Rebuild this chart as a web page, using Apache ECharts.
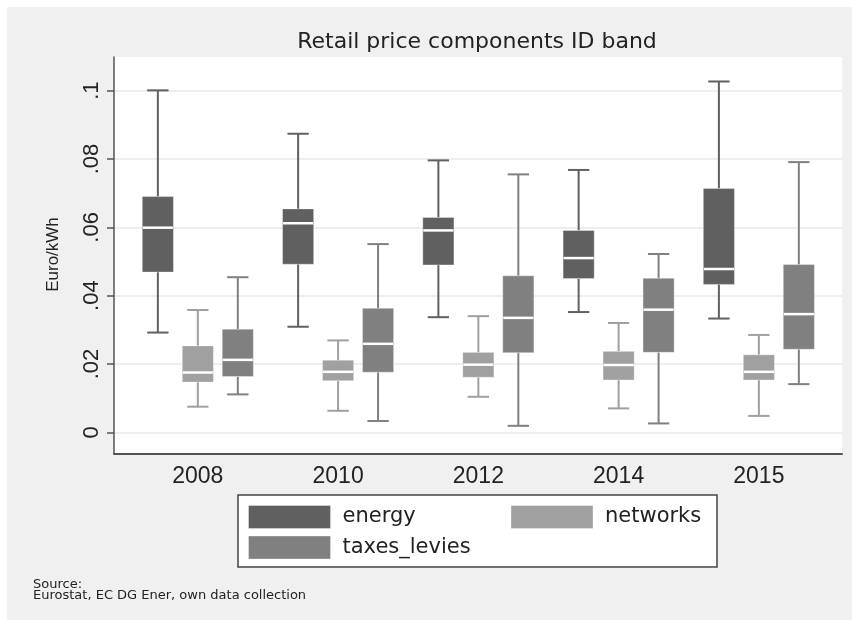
<!DOCTYPE html>
<html>
<head>
<meta charset="utf-8">
<script src="https://cdn.jsdelivr.net/npm/echarts@6/dist/echarts.min.js"></script>
<style>html,body{margin:0;padding:0;background:#fff}#c{width:852px;height:620px}</style>
</head>
<body>
<div id="c"></div>
<script>
// ---- data (Euro/kWh): [lower whisker, Q1, median, Q3, upper whisker]
var years = ['2008', '2010', '2012', '2014', '2015'];
var yTicks = ['0', '.02', '.04', '.06', '.08', '.1'];
var energy = [
  [0.0292, 0.0469, 0.0599, 0.0690, 0.1001],
  [0.0309, 0.0492, 0.0612, 0.0654, 0.0874],
  [0.0337, 0.0490, 0.0591, 0.0629, 0.0796],
  [0.0352, 0.0450, 0.0510, 0.0591, 0.0768],
  [0.0333, 0.0433, 0.0478, 0.0714, 0.1027]
];
var networks = [
  [0.0075, 0.0147, 0.0175, 0.0253, 0.0358],
  [0.0063, 0.0151, 0.0177, 0.0211, 0.0269],
  [0.0104, 0.0161, 0.0198, 0.0234, 0.0340],
  [0.0070, 0.0153, 0.0197, 0.0237, 0.0320],
  [0.0048, 0.0153, 0.0177, 0.0227, 0.0285]
];
var taxes_levies = [
  [0.0111, 0.0163, 0.0212, 0.0302, 0.0454],
  [0.0033, 0.0176, 0.0259, 0.0363, 0.0551],
  [0.0019, 0.0233, 0.0335, 0.0458, 0.0755],
  [0.0026, 0.0234, 0.0359, 0.0451, 0.0522],
  [0.0141, 0.0243, 0.0346, 0.0491, 0.0791]
];

var chart = echarts.init(document.getElementById('c'), null, {renderer: 'canvas'});

function boxSeries(name, rows, color, offset) {
  return {
    name: name,
    type: 'custom',
    xAxisIndex: 2,
    yAxisIndex: 2,
    silent: true,
    itemStyle: {color: color},
    encode: {x: 0, y: [1, 2, 3, 4, 5]},
    data: rows.map(function (r, i) { return [i].concat(r); }),
    renderItem: function (params, api) {
      var i = api.value(0);
      var band = api.size([1, 0])[0];
      var cx = api.coord([i, 0])[0] + offset * band;
      var Y = function (k) { return api.coord([i, api.value(k)])[1]; };
      var bw = band * 0.222, cw = band * 0.152;
      var yl = Y(1), q1 = Y(2), md = Y(3), q3 = Y(4), yh = Y(5);
      var ls = {stroke: color, lineWidth: 2};
      return {
        type: 'group',
        children: [
          {type: 'line', shape: {x1: cx, y1: q3, x2: cx, y2: yh}, style: ls},
          {type: 'line', shape: {x1: cx, y1: q1, x2: cx, y2: yl}, style: ls},
          {type: 'line', shape: {x1: cx - cw / 2, y1: yh, x2: cx + cw / 2, y2: yh}, style: ls},
          {type: 'line', shape: {x1: cx - cw / 2, y1: yl, x2: cx + cw / 2, y2: yl}, style: ls},
          {type: 'rect', shape: {x: cx - bw / 2, y: q3, width: bw, height: q1 - q3},
            style: {fill: color, stroke: 'rgba(255,255,255,0.35)', lineWidth: 1}},
          {type: 'line', shape: {x1: cx - bw / 2 + 0.5, y1: md, x2: cx + bw / 2 - 0.5, y2: md},
            style: {stroke: '#ffffff', lineWidth: 2.5}}
        ]
      };
    }
  };
}

var legendCommon = {
  orient: 'horizontal', padding: 0, itemWidth: 82, itemHeight: 23, icon: 'rect',
  selectedMode: false,
  itemStyle: {borderColor: 'rgba(255,255,255,0.35)', borderWidth: 1},
  textStyle: {fontFamily: 'DejaVu Sans', fontSize: 21, color: '#222', padding: [0, 0, 0, 7], lineHeight: 23}
};

var option = {
  animation: false,
  backgroundColor: '#ffffff',
  title: {
    text: 'Retail price components ID band',
    left: 477, top: 31, padding: 0, textAlign: 'center',
    textStyle: {fontFamily: 'DejaVu Sans', fontSize: 22, fontWeight: 'normal', color: '#222'}
  },
  graphic: [
    {type: 'rect', z: -10, shape: {x: 7, y: 7, width: 845, height: 613}, style: {fill: '#f0f0f0'}},
    {type: 'rect', z: 1, shape: {x: 238, y: 495, width: 479, height: 72},
      style: {fill: '#ffffff', stroke: '#444', lineWidth: 1.5}},
    {type: 'text', x: 33, y: 585, style: {text: 'Source:', fontFamily: 'DejaVu Sans', fontSize: 13, fill: '#222', verticalAlign: 'middle'}},
    {type: 'text', x: 33, y: 596, style: {text: 'Eurostat, EC DG Ener, own data collection', fontFamily: 'DejaVu Sans', fontSize: 13, fill: '#222', verticalAlign: 'middle'}}
  ],
  legend: [
    Object.assign({data: ['energy'], left: 248, top: 505}, legendCommon),
    Object.assign({data: ['networks'], left: 510.5, top: 505}, legendCommon),
    Object.assign({data: ['taxes_levies'], left: 248, top: 535.5}, legendCommon)
  ],
  grid: [
    {left: 114, right: 10, top: 57, bottom: 166, show: true, backgroundColor: '#ffffff', borderWidth: 0, containLabel: false},
    {left: 114, right: 10, top: 90.7, bottom: 187.7, containLabel: false},
    {left: 127.7, right: 23, top: 90.7, bottom: 187.7, containLabel: false}
  ],
  xAxis: [
    {gridIndex: 0, type: 'value', min: 0, max: 1,
      axisLine: {show: true, onZero: false, lineStyle: {color: '#555', width: 2}},
      axisTick: {show: false}, axisLabel: {show: false}, splitLine: {show: false}},
    {gridIndex: 1, type: 'value', min: 0, max: 1, show: false},
    {gridIndex: 2, type: 'category', data: years, boundaryGap: true,
      axisLine: {show: false}, axisTick: {show: false}, splitLine: {show: false},
      axisLabel: {margin: 33, fontFamily: 'Liberation Sans', fontSize: 23, color: '#222'}}
  ],
  yAxis: [
    {gridIndex: 0, type: 'value', min: 0, max: 1,
      axisLine: {show: true, onZero: false, lineStyle: {color: '#555', width: 1.5}},
      axisTick: {show: false}, axisLabel: {show: false}, splitLine: {show: false}},
    {gridIndex: 1, type: 'value', min: 0, max: 0.1, interval: 0.02,
      name: 'Euro/kWh', nameLocation: 'middle', nameGap: 52,
      nameTextStyle: {fontFamily: 'Liberation Sans', fontSize: 17, color: '#222', padding: [0, 0, 0, 14]},
      axisLine: {show: false},
      axisTick: {show: true, length: 7, lineStyle: {color: '#555', width: 1.5}},
      axisLabel: {rotate: 90, margin: 11, fontFamily: 'Liberation Sans', fontSize: 22, color: '#222',
        formatter: function (v) { return yTicks[Math.round(v / 0.02)]; }},
      splitLine: {show: true, lineStyle: {color: '#e8e8e8', width: 1.5}}},
    {gridIndex: 2, type: 'value', min: 0, max: 0.1, show: false}
  ],
  series: [
    boxSeries('energy', energy, '#606060', -0.285),
    boxSeries('networks', networks, '#a0a0a0', 0),
    boxSeries('taxes_levies', taxes_levies, '#808080', 0.285)
  ]
};
chart.setOption(option);
</script>
</body>
</html>
